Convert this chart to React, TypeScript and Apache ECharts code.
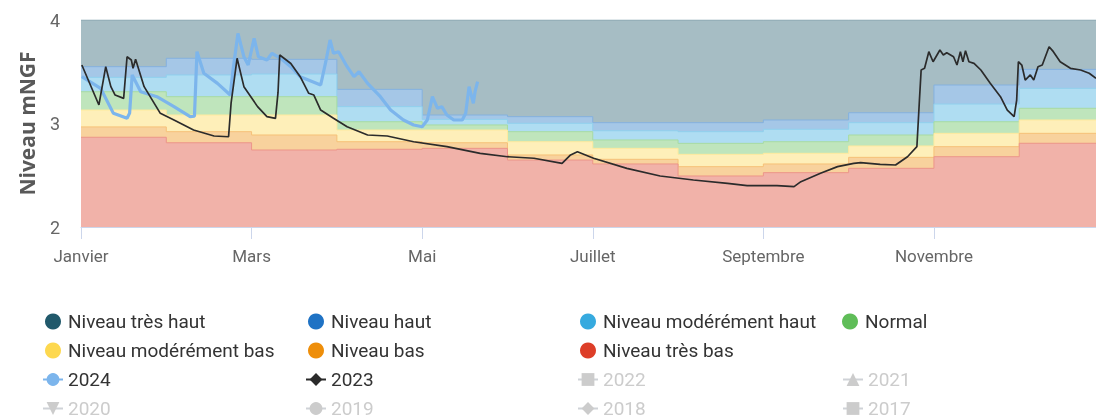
import React, { useEffect, useRef } from "react";
import * as echarts from "echarts";

// Month labels shown on the x axis (every two months)
const moisLabels = ["Janvier", "Mars", "Mai", "Juillet", "Septembre", "Novembre"];

// Monthly thresholds (mNGF), January..December, upper edge of each band
const seuilTresBas = [2.867, 2.814, 2.744, 2.751, 2.76, 2.647, 2.609, 2.493, 2.525, 2.567, 2.679, 2.809];
const seuilBas = [2.967, 2.921, 2.889, 2.824, 2.814, 2.696, 2.654, 2.583, 2.609, 2.673, 2.776, 2.905];
const seuilModereBas = [3.13, 3.082, 3.082, 2.937, 2.937, 2.824, 2.76, 2.702, 2.712, 2.783, 2.905, 3.034];
const seuilNormal = [3.307, 3.259, 3.259, 3.017, 2.986, 2.921, 2.841, 2.808, 2.824, 2.889, 3.017, 3.147];
const seuilModereHaut = [3.446, 3.469, 3.478, 3.163, 3.04, 3.002, 2.93, 2.921, 2.944, 3.008, 3.188, 3.34];
const seuilHaut = [3.549, 3.63, 3.62, 3.33, 3.082, 3.066, 3.008, 3.008, 3.034, 3.104, 3.372, 3.523];
const plafond = [4, 4, 4, 4, 4, 4, 4, 4, 4, 4, 4, 4];
const finAxe = 11.9; // visible end of the year (months)

// Series: [month (0 = 1 Jan), level mNGF]
const niveaux2023: [number, number][] = [
  [0.01, 3.565], [0.21, 3.179], [0.29, 3.549], [0.35, 3.356], [0.4, 3.275], [0.5, 3.243], [0.54, 3.645],
  [0.59, 3.614], [0.61, 3.533], [0.64, 3.62], [0.74, 3.356], [0.93, 3.098], [1.09, 3.034], [1.32, 2.937],
  [1.56, 2.879], [1.73, 2.872], [1.76, 3.2], [1.83, 3.63], [1.91, 3.356], [2.07, 3.163], [2.18, 3.066],
  [2.28, 3.05], [2.31, 3.3], [2.33, 3.662], [2.46, 3.58], [2.57, 3.452], [2.67, 3.292], [2.73, 3.275],
  [2.81, 3.13], [2.96, 3.05], [3.12, 2.969], [3.36, 2.889], [3.59, 2.879], [3.9, 2.824], [4.29, 2.776],
  [4.68, 2.712], [5.0, 2.679], [5.31, 2.664], [5.64, 2.615], [5.74, 2.696], [5.82, 2.727], [6.01, 2.664],
  [6.4, 2.567], [6.79, 2.493], [7.18, 2.454], [7.58, 2.422], [7.81, 2.4], [8.16, 2.4], [8.36, 2.39],
  [8.44, 2.438], [8.67, 2.519], [8.87, 2.583], [9.06, 2.615], [9.14, 2.622], [9.37, 2.606], [9.55, 2.599],
  [9.69, 2.679], [9.8, 2.776], [9.83, 3.227], [9.85, 3.517], [9.89, 3.533], [9.94, 3.694], [9.99, 3.597],
  [10.07, 3.71], [10.11, 3.662], [10.15, 3.684], [10.23, 3.645], [10.27, 3.565], [10.31, 3.694],
  [10.34, 3.597], [10.37, 3.704], [10.41, 3.597], [10.47, 3.581], [10.55, 3.517], [10.66, 3.388],
  [10.78, 3.259], [10.86, 3.13], [10.94, 3.066], [10.97, 3.227], [10.99, 3.597], [11.03, 3.565],
  [11.07, 3.42], [11.13, 3.469], [11.17, 3.42], [11.22, 3.549], [11.27, 3.565], [11.35, 3.742],
  [11.4, 3.694], [11.48, 3.597], [11.6, 3.533], [11.72, 3.517], [11.82, 3.485], [11.9, 3.437],
];

const niveaux2024: [number, number][] = [
  [0.01, 3.452], [0.23, 3.34], [0.38, 3.098], [0.54, 3.05], [0.57, 3.1], [0.6, 3.469], [0.7, 3.307],
  [0.89, 3.259], [1.09, 3.163], [1.28, 3.066], [1.33, 3.07], [1.36, 3.694], [1.44, 3.485], [1.6, 3.388],
  [1.75, 3.275], [1.78, 3.5], [1.84, 3.871], [1.91, 3.645], [1.96, 3.565], [2.03, 3.823], [2.08, 3.645],
  [2.18, 3.614], [2.24, 3.678], [2.34, 3.63], [2.46, 3.549], [2.57, 3.452], [2.81, 3.372], [2.87, 3.597],
  [2.92, 3.807], [2.96, 3.678], [3.02, 3.694], [3.12, 3.549], [3.2, 3.452], [3.26, 3.5], [3.36, 3.388],
  [3.51, 3.259], [3.63, 3.13], [3.78, 3.034], [3.9, 2.986], [4.0, 2.969], [4.06, 3.034], [4.12, 3.259],
  [4.18, 3.147], [4.23, 3.163], [4.29, 3.082], [4.37, 3.034], [4.47, 3.034], [4.51, 3.098], [4.55, 3.356],
  [4.6, 3.195], [4.62, 3.307], [4.65, 3.404],
];

// Bands drawn from top (largest) to bottom so each lower band covers the previous one
const bandes = [
  { nom: "Niveau très haut", couleur: "#21596B", seuil: plafond },
  { nom: "Niveau haut", couleur: "#1F72C4", seuil: seuilHaut },
  { nom: "Niveau modérément haut", couleur: "#36AADF", seuil: seuilModereHaut },
  { nom: "Normal", couleur: "#5FBD58", seuil: seuilNormal },
  { nom: "Niveau modérément bas", couleur: "#FDD84F", seuil: seuilModereBas },
  { nom: "Niveau bas", couleur: "#EE8E0A", seuil: seuilBas },
  { nom: "Niveau très bas", couleur: "#DD3E28", seuil: seuilTresBas },
];

const anneesMasquees = [
  { nom: "2022", symbole: "rect" },
  { nom: "2021", symbole: "triangle" },
  { nom: "2020", symbole: "path://M0,0L10,0L5,10Z" },
  { nom: "2019", symbole: "circle" },
  { nom: "2018", symbole: "diamond" },
  { nom: "2017", symbole: "rect" },
];

function pale(hex: string, a: number) {
  const n = parseInt(hex.slice(1), 16);
  const ch = [(n >> 16) & 255, (n >> 8) & 255, n & 255].map((c) => Math.round(c * a + 255 * (1 - a)));
  return `rgb(${ch[0]},${ch[1]},${ch[2]})`;
}

const CHART_H = 450;

export default function App() {
  const ref = useRef<HTMLDivElement>(null);

  useEffect(() => {
    if (!ref.current) return;
    const chart = echarts.init(ref.current, undefined, { renderer: "svg" });

    const bandSeries = bandes.map((b, k) => {
      const data: [number, number][] = b.seuil.map((v, i) => [i, v]);
      data.push([finAxe, b.seuil[b.seuil.length - 1]]);
      return {
        name: b.nom,
        type: "line",
        step: "end",
        symbol: "none",
        data,
        itemStyle: { color: b.couleur },
        lineStyle: { width: 1, color: pale(b.couleur, 0.55) },
        areaStyle: { color: pale(b.couleur, 0.4), opacity: 1, origin: "start" },
        z: 1 + k * 0.01,
      };
    });

    const lineSeries = [
      {
        name: "2024",
        type: "line",
        symbol: "circle",
        showSymbol: false,
        data: niveaux2024,
        itemStyle: { color: "#7CB5EC" },
        lineStyle: { width: 3.2, color: "#7CB5EC" },
        z: 5,
      },
      {
        name: "2023",
        type: "line",
        symbol: "diamond",
        showSymbol: false,
        data: niveaux2023,
        itemStyle: { color: "#2b2b2b" },
        lineStyle: { width: 1.7, color: "#2b2b2b" },
        z: 6,
      },
      ...anneesMasquees.map((a) => ({
        name: a.nom,
        type: "line",
        symbol: a.symbole,
        showSymbol: false,
        data: [],
      })),
    ];

    const legendText = {
      fontFamily: "Roboto",
      fontSize: 19,
      color: "#333",
      lineHeight: 29,
    };
    const estBande = (n: string) => bandes.some((b) => b.nom === n);
    const colonnes = [
      { noms: ["Niveau très haut", "Niveau modérément bas", "2024", "2020"], left: 42, top: 307 },
      { noms: ["Niveau haut", "Niveau bas", "2023", "2019"], left: 305, top: 307 },
      { noms: ["Niveau modérément haut", "Niveau très bas", "2022", "2018"], left: 577, top: 307 },
      { noms: ["Normal"], left: 842, top: 307 },
      { noms: ["2021", "2017"], left: 842, top: 365 },
    ];
    const selected: Record<string, boolean> = {};
    anneesMasquees.forEach((a) => (selected[a.nom] = false));
    const legends = colonnes.map((c) => ({
      orient: "vertical",
      left: c.left,
      top: c.top,
      itemWidth: 20,
      itemHeight: 16,
      itemGap: 0,
      padding: 0,
      inactiveColor: "#ccc",
      textStyle: legendText,
      selected,
      data: c.noms.map((n) => (estBande(n) ? { name: n, icon: "circle" } : { name: n })),
    }));

    chart.setOption({
      animation: false,
      grid: { left: 81, right: 0, top: 20, bottom: CHART_H - 227 },
      legend: legends,
      xAxis: {
        type: "value",
        min: 0,
        max: finAxe,
        interval: 2,
        axisLine: { show: true, lineStyle: { color: "#ccd6eb" } },
        axisTick: { show: true, length: 12, lineStyle: { color: "#ccd6eb" } },
        splitLine: { show: false },
        axisLabel: {
          margin: 20,
          fontFamily: "Roboto",
          fontSize: 17,
          color: "#666",
          showMaxLabel: false,
          formatter: (v: number) => moisLabels[Math.round(v / 2)] ?? "",
        },
      },
      yAxis: {
        type: "value",
        min: 2,
        max: 4,
        interval: 1,
        name: "Niveau mNGF",
        nameLocation: "middle",
        nameGap: 44,
        nameTextStyle: { fontFamily: "Open Sans", fontWeight: "bold", fontSize: 21, color: "#595959" },
        axisLine: { show: false },
        axisTick: { show: false },
        splitLine: { show: false },
        axisLabel: { margin: 21, fontFamily: "Roboto", fontSize: 18, color: "#666" },
      },
      series: [...bandSeries, ...lineSeries],
    });

    return () => chart.dispose();
  }, []);

  return (
    <div style={{ position: "fixed", left: 0, top: 0, width: 1096, height: 420, overflow: "hidden" }}>
      <div ref={ref} style={{ width: 1096, height: CHART_H }} />
    </div>
  );
}
